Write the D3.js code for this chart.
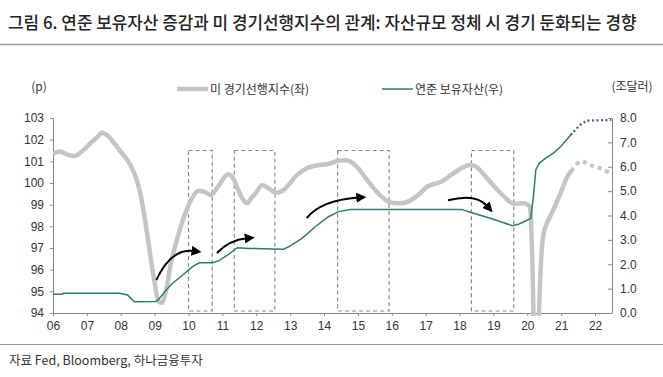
<!DOCTYPE html>
<html>
<head>
<meta charset="utf-8">
<script src="https://cdn.jsdelivr.net/npm/d3@7"></script>
<style>
  body { margin: 0; background: #fff; }
  svg { display: block; font-family: "Noto Sans CJK KR", "Noto Sans", sans-serif; }
  .axis text { font-size: 12px; fill: #333; }
  .axis path, .axis line { stroke: #888; }
</style>
</head>
<body>
<svg id="chart" width="663" height="377"></svg>
<script>
// US leading index (left axis, p) - solid and dotted (latest) parts
const cliSolid = [
  [2006.0, 101.35], [2006.2, 101.45], [2006.45, 101.3], [2006.65, 101.25], [2006.85, 101.45],
  [2007.1, 101.83], [2007.3, 102.1], [2007.45, 102.32], [2007.6, 102.2], [2007.8, 101.85],
  [2007.97, 101.5], [2008.2, 101.05], [2008.4, 100.45], [2008.55, 99.7], [2008.7, 98.45],
  [2008.85, 96.9], [2009.0, 95.4], [2009.12, 94.55], [2009.22, 94.48], [2009.34, 95.05],
  [2009.48, 96.3], [2009.68, 97.5], [2009.87, 98.45], [2010.07, 99.2], [2010.27, 99.63],
  [2010.46, 99.6], [2010.66, 99.45], [2010.9, 99.9], [2011.15, 100.4], [2011.28, 100.3],
  [2011.45, 99.75], [2011.6, 99.25], [2011.73, 99.06], [2011.85, 99.3], [2011.98, 99.52],
  [2012.17, 99.9], [2012.37, 99.75], [2012.57, 99.55], [2012.81, 99.68], [2013.0, 100.0],
  [2013.15, 100.29], [2013.35, 100.55], [2013.55, 100.72], [2013.84, 100.83], [2014.13, 100.88],
  [2014.43, 101.03], [2014.72, 101.03], [2014.9, 100.85], [2015.01, 100.68], [2015.31, 100.06],
  [2015.6, 99.52], [2015.9, 99.14], [2016.19, 99.06], [2016.48, 99.14], [2016.78, 99.45],
  [2017.07, 99.85], [2017.46, 100.06], [2017.75, 100.37], [2018.05, 100.68], [2018.29, 100.83],
  [2018.49, 100.75], [2018.73, 100.37], [2019.03, 99.83], [2019.32, 99.37], [2019.56, 99.06],
  [2019.91, 99.06], [2020.05, 98.95], [2020.12, 97.7], [2020.18, 94.0], [2020.24, 88.0],
  [2020.3, 91.0], [2020.38, 95.5], [2020.5, 97.8], [2020.75, 98.7], [2020.98, 99.52],
  [2021.18, 100.29], [2021.3, 100.55]
];
const cliDotted = [
  [2021.3, 100.55], [2021.57, 101.0], [2021.86, 100.83], [2022.16, 100.68], [2022.48, 100.42]
];

// Fed total assets (right axis, trillion USD)
const fedSolid = [
  [2006.0, 0.77], [2006.28, 0.77], [2006.3, 0.81], [2007.97, 0.81], [2008.2, 0.74],
  [2008.3, 0.6], [2008.4, 0.46], [2009.04, 0.47], [2009.14, 0.6], [2009.34, 0.94],
  [2009.53, 1.22], [2009.83, 1.56], [2010.12, 1.9], [2010.32, 2.06], [2010.71, 2.06],
  [2010.9, 2.15], [2011.2, 2.42], [2011.44, 2.68], [2011.78, 2.65], [2012.81, 2.62],
  [2013.0, 2.75], [2013.35, 3.06], [2013.74, 3.54], [2014.13, 3.95], [2014.43, 4.16],
  [2014.77, 4.25], [2018.05, 4.25], [2018.34, 4.12], [2018.93, 3.88], [2019.56, 3.58],
  [2019.76, 3.65], [2020.1, 3.88], [2020.18, 4.77], [2020.25, 5.87], [2020.35, 6.14],
  [2020.5, 6.31], [2020.79, 6.58], [2020.98, 6.82], [2021.28, 7.3]
];
const fedDotted = [
  [2021.28, 7.3], [2021.55, 7.71], [2021.75, 7.89], [2022.48, 7.92]
];

// stagnant balance-sheet periods: [start year, end year]
const boxes = [[2010.0, 2010.7], [2011.35, 2012.55], [2014.4, 2015.92], [2018.35, 2019.6]];
const boxTop = 101.5;

// arrows in (year, left-axis value): start, control, end
const arrows = [
  [[2009.05, 95.52], [2009.49, 97.0], [2010.15, 96.86]],
  [[2010.84, 96.77], [2011.2, 97.37], [2011.72, 97.45]],
  [[2013.49, 98.38], [2013.9, 99.2], [2015.01, 99.33]],
  [[2017.66, 99.2], [2018.48, 99.54], [2018.82, 98.93]]
];

const years = d3.range(2006, 2023);
const leftTicks = d3.range(94, 104);
const rightTicks = d3.range(0, 9);

const svg = d3.select('#chart');
const plot = { left: 53, right: 612, top: 118, bottom: 313 };
const teal = '#2a7d73';
const grey = '#c4c4c4';

const x = d3.scaleLinear().domain([2006, 2022.5]).range([plot.left, plot.right]);
const yL = d3.scaleLinear().domain([94, 103]).range([plot.bottom, plot.top]);
const yR = d3.scaleLinear().domain([0, 8]).range([plot.bottom, plot.top]);

// title and rules
svg.append('text')
    .attr('x', 8)
    .attr('y', 29)
    .attr('font-size', 16.9)
    .attr('font-weight', 500)
    .attr('fill', '#222')
    .text('그림 6. 연준 보유자산 증감과 미 경기선행지수의 관계: 자산규모 정체 시 경기 둔화되는 경향');

svg.append('line')
    .attr('x1', 0).attr('x2', 663)
    .attr('y1', 44.5).attr('y2', 44.5)
    .attr('stroke', '#999').attr('stroke-width', 1.5);

svg.append('line')
    .attr('x1', 0).attr('x2', 663)
    .attr('y1', 344.5).attr('y2', 344.5)
    .attr('stroke', '#999').attr('stroke-width', 1.2);

svg.append('text')
    .attr('x', 9)
    .attr('y', 365)
    .attr('font-size', 12.5)
    .attr('fill', '#333')
    .text('자료 Fed, Bloomberg, 하나금융투자');

// axis unit labels
svg.append('text')
    .attr('x', 39).attr('y', 91)
    .attr('text-anchor', 'middle')
    .attr('font-size', 12).attr('fill', '#333')
    .text('(p)');

svg.append('text')
    .attr('x', 632).attr('y', 91)
    .attr('text-anchor', 'middle')
    .attr('font-size', 12).attr('fill', '#333')
    .text('(조달러)');

// legend
const legend = svg.append('g').attr('font-size', 12).attr('fill', '#333');
legend.append('line')
    .attr('x1', 177).attr('x2', 208).attr('y1', 89).attr('y2', 89)
    .attr('stroke', grey).attr('stroke-width', 4.5);
legend.append('text').attr('x', 210).attr('y', 93.5).text('미 경기선행지수(좌)');
legend.append('line')
    .attr('x1', 382).attr('x2', 413).attr('y1', 89).attr('y2', 89)
    .attr('stroke', teal).attr('stroke-width', 1.5);
legend.append('text').attr('x', 415).attr('y', 93.5).text('연준 보유자산(우)');

// axes
svg.append('g')
    .attr('class', 'axis')
    .attr('transform', `translate(${plot.left},0)`)
    .call(d3.axisLeft(yL).tickValues(leftTicks).tickSizeInner(3).tickSizeOuter(0).tickPadding(6));

svg.append('g')
    .attr('class', 'axis')
    .attr('transform', `translate(${plot.right},0)`)
    .call(d3.axisRight(yR).tickValues(rightTicks).tickFormat(d3.format('.1f'))
      .tickSizeInner(-4).tickSizeOuter(0).tickPadding(8));

svg.append('g')
    .attr('class', 'axis')
    .attr('transform', `translate(0,${plot.bottom})`)
    .call(d3.axisBottom(x).tickValues(years).tickFormat(d => String(d).slice(2))
      .tickSizeInner(3).tickSizeOuter(0).tickPadding(5))
    .call(g => g.select('.domain').attr('d', `M${plot.left},0.5H${plot.right}`));

// dashed boxes
svg.append('g')
  .selectAll('rect')
  .data(boxes)
  .join('rect')
    .attr('x', d => x(d[0]))
    .attr('y', yL(boxTop))
    .attr('width', d => x(d[1]) - x(d[0]))
    .attr('height', yL(94) - yL(boxTop) - 2)
    .attr('fill', 'none')
    .attr('stroke', '#8a8a8a')
    .attr('stroke-width', 1.2)
    .attr('stroke-dasharray', '4,3');

// lines
svg.append('clipPath').attr('id', 'clip')
  .append('rect')
    .attr('x', plot.left).attr('y', plot.top - 10)
    .attr('width', plot.right - plot.left).attr('height', plot.bottom - plot.top + 13);

const lineL = d3.line().x(d => x(d[0])).y(d => yL(d[1])).curve(d3.curveCatmullRom);
const lineR = d3.line().x(d => x(d[0])).y(d => yR(d[1]));

const lines = svg.append('g').attr('clip-path', 'url(#clip)').attr('fill', 'none');

lines.append('path')
    .attr('d', lineL(cliSolid))
    .attr('stroke', grey).attr('stroke-width', 4.5)
    .attr('stroke-linejoin', 'round');

lines.append('path')
    .attr('d', lineL(cliDotted))
    .attr('stroke', grey).attr('stroke-width', 4)
    .attr('stroke-dasharray', '4,4');

lines.append('path')
    .attr('d', lineR(fedSolid))
    .attr('stroke', teal).attr('stroke-width', 1.5);

lines.append('path')
    .attr('d', lineR(fedDotted))
    .attr('stroke', '#3d5f8f').attr('stroke-width', 2.2)
    .attr('stroke-dasharray', '2,2.5');

// arrows
svg.append('defs').append('marker')
    .attr('id', 'head')
    .attr('viewBox', '0 0 10 10')
    .attr('refX', 2).attr('refY', 5)
    .attr('markerWidth', 5).attr('markerHeight', 5)
    .attr('markerUnits', 'strokeWidth')
    .attr('orient', 'auto')
  .append('path')
    .attr('d', 'M0,0L10,5L0,10z')
    .attr('fill', '#000');

svg.append('g')
  .selectAll('path')
  .data(arrows)
  .join('path')
    .attr('d', d => {
      const p = d.map(q => [x(q[0]), yL(q[1])]);
      return `M${p[0]}Q${p[1]} ${p[2]}`;
    })
    .attr('fill', 'none')
    .attr('stroke', '#000')
    .attr('stroke-width', 2)
    .attr('marker-end', 'url(#head)');
</script>
</body>
</html>
